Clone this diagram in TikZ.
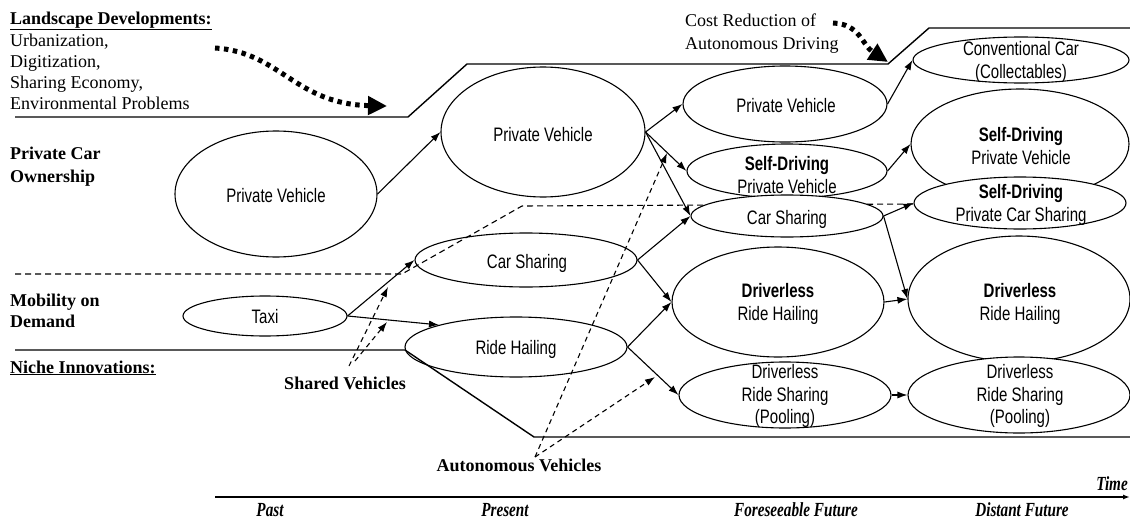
\documentclass[tikz,border=0pt]{standalone}
\usepackage{fontspec}
\setmainfont{Liberation Serif}
\newfontfamily\condfont[FakeStretch=0.77]{Liberation Sans}
\newfontfamily\timefont[FakeStretch=0.76]{Liberation Serif}
\usetikzlibrary{shapes.geometric,arrows.meta}
\tikzset{
  ell/.style={ellipse, draw, line width=1.1pt, inner sep=0pt},
  well/.style={ell, fill=white},
  etext/.style={font=\condfont\fontsize{19.5}{22.5}\selectfont, align=center, inner sep=0pt},
  lab/.style={font=\fontsize{18}{21}\selectfont, anchor=base west, inner sep=0pt},
  blab/.style={font=\bfseries\fontsize{18}{21}\selectfont, anchor=base west, inner sep=0pt},
  tlab/.style={font=\timefont\bfseries\itshape\fontsize{20}{21}\selectfont, anchor=base, inner sep=0pt},
  arr/.style={-{Latex[length=10pt,width=7pt]}, line width=1.1pt},
  darr/.style={arr, dash pattern=on 5pt off 4pt},
  dline/.style={line width=1.1pt, dash pattern=on 6pt off 4pt},
  regime/.style={line width=1.4pt},
  bigdot/.style={line width=5pt, dash pattern=on 4.5pt off 4.5pt, -{Triangle[length=19pt,width=18pt]}},
  axisline/.style={line width=1.6pt, -{Latex[length=7pt,width=5pt]}}
}
\begin{document}
\begin{tikzpicture}[x=1pt,y=-1pt]
\useasboundingbox (0,0) rectangle (1130,522);

% regime boundaries
\draw[regime] (15,117) -- (408,117) -- (467,64) -- (888,64) -- (929,28) -- (1130,28);
\draw[regime] (15,350) -- (405,350) -- (534,437) -- (1130,437);
\coordinate (dEnd) at (913,204);
\draw[dline] (15,274) -- (402,274) -- (522,206) -- (dEnd);

% ellipses
\node[ell, minimum width=202pt, minimum height=126pt] (pvpast) at (276,194) {};
\node[ell, minimum width=204pt, minimum height=130pt] (pvpres) at (543,132) {};
\node[ell, minimum width=164pt, minimum height=40pt] (taxi) at (265,316) {};
\node[ell, minimum width=222pt, minimum height=54pt] (cs1) at (526,260) {};
\node[ell, minimum width=222pt, minimum height=60pt] (rh1) at (516,347) {};
\node[ell, minimum width=204pt, minimum height=76pt] (pvf) at (785,104) {};
\node[ell, minimum width=200pt, minimum height=54pt] (sdpv1) at (787,171) {};
\node[well, minimum width=192pt, minimum height=42pt] (cs2) at (787,216) {};
\node[ell, minimum width=212pt, minimum height=110pt] (drh1) at (778,302) {};
\node[ell, minimum width=212pt, minimum height=66pt] (drs1) at (785,395) {};
\node[ell, minimum width=216pt, minimum height=46pt] (conv) at (1021,60) {};
\node[ell, minimum width=218pt, minimum height=110pt] (sdpv2) at (1020,144) {};
\node[well, minimum width=212pt, minimum height=52pt] (sdcs) at (1020,203) {};
\node[ell, minimum width=222pt, minimum height=126pt] (drh2) at (1019,299) {};
\node[well, minimum width=222pt, minimum height=76pt] (drs2) at (1019,395) {};

% ellipse texts
\node[etext] (t-pvpast) at (276,196) {Private Vehicle};
\node[etext] (t-pvpres) at (543,135) {Private Vehicle};
\node[etext] (t-taxi) at (265,317) {Taxi};
\node[etext] (t-cs1) at (527,263) {Car Sharing};
\node[etext] (t-rh1) at (516,349) {Ride Hailing};
\node[etext] (t-pvf) at (786,106) {Private Vehicle};
\node[etext] (t-sdpv1) at (787,175) {\textbf{Self-Driving}\\Private Vehicle};
\node[etext] (t-cs2) at (787,219) {Car Sharing};
\node[etext] (t-drh1) at (778,304) {\textbf{Driverless}\\Ride Hailing};
\node[etext] (t-drs1) at (785,396) {Driverless\\Ride Sharing\\(Pooling)};
\node[etext] (t-conv) at (1021,62) {Conventional Car\\(Collectables)};
\node[etext] (t-sdpv2) at (1021,146) {\textbf{Self-Driving}\\Private Vehicle};
\node[etext] (t-sdcs) at (1021,205) {\textbf{Self-Driving}\\Private Car Sharing};
\node[etext] (t-drh2) at (1020,304) {\textbf{Driverless}\\Ride Hailing};
\node[etext] (t-drs2) at (1020,396) {Driverless\\Ride Sharing\\(Pooling)};

% transitions
\draw[arr] (pvpast.east) -- (pvpres.west);
\draw[arr] (pvpres.east) -- (pvf.west);
\draw[arr] (pvpres.east) -- (sdpv1.west);
\draw[arr] (pvpres.east) -- (cs2.west);
\draw[arr] (pvf.east) -- (conv.west);
\draw[arr] (sdpv1.east) -- (sdpv2.west);
\draw[arr] (cs2.east) -- (sdcs.west);
\draw[arr] (cs2.east) -- (drh2.west);
\draw[arr] (drh1.east) -- (drh2.west);
\draw[arr] (drs1.east) -- (drs2.west);
\draw[arr] (taxi.east) -- (cs1.west);
\draw[arr] (taxi.east) -- (rh1.164);
\draw[arr] (cs1.east) -- (cs2.west);
\draw[arr] (cs1.east) -- (drh1.west);
\draw[arr] (rh1.east) -- (drh1.west);
\draw[arr] (rh1.east) -- (drs1.west);

% left labels
\node[blab] (land) at (10,24) {\underline{Landscape Developments:}};
\node[lab] (l1) at (10,46) {Urbanization,};
\node[lab] (l2) at (10,67) {Digitization,};
\node[lab] (l3) at (10,88) {Sharing Economy,};
\node[lab] (l4) at (10,109) {Environmental Problems};
\node[blab] (pco1) at (10,159) {Private Car};
\node[blab] (pco2) at (10,182) {Ownership};
\node[blab] (mod1) at (10,306) {Mobility on};
\node[blab] (mod2) at (10,327) {Demand};
\node[blab] (niche) at (10,373) {\underline{Niche Innovations:}};
\node[lab] (cr1) at (685,27) {Cost Reduction of};
\node[lab] (cr2) at (685,49) {Autonomous Driving};
\node[blab, anchor=base] (sv) at (345,389) {Shared Vehicles};
\node[blab, anchor=base] (av) at (519,471) {Autonomous Vehicles};

% landscape pressure arrows
\coordinate (ld0) at (215,48);
\coordinate (ld1) at (387,106);
\draw[bigdot] (ld0) .. controls (280,52) and (295,104) .. (ld1);
\coordinate (cr0) at (833,23);
\coordinate (cr1e) at (888,62);
\draw[bigdot] (cr0) .. controls (860,24) and (862,45) .. (cr1e);

% niche influence arrows
\coordinate (sva) at (349,366);
\coordinate (svb) at (355,361);
\coordinate (svt1) at (388,287);
\coordinate (svt2) at (387,322);
\draw[darr] (sva) -- (svt1);
\draw[darr] (svb) -- (svt2);
\coordinate (ava) at (535,457);
\coordinate (avt1) at (667,153);
\coordinate (avt2) at (655,377);
\draw[darr] (ava) -- (avt1);
\draw[darr] (ava) -- (avt2);

% time axis
\coordinate (t0) at (215,497);
\coordinate (t1) at (1130,497);
\draw[axisline] (t0) -- (t1);
\node[tlab, anchor=base east] (time) at (1128,490) {Time};
\node[tlab] (past) at (270,516) {Past};
\node[tlab] (present) at (505,516) {Present};
\node[tlab] (ff) at (796,516) {Foreseeable Future};
\node[tlab] (df) at (1022,516) {Distant Future};
\end{tikzpicture}
\end{document}
